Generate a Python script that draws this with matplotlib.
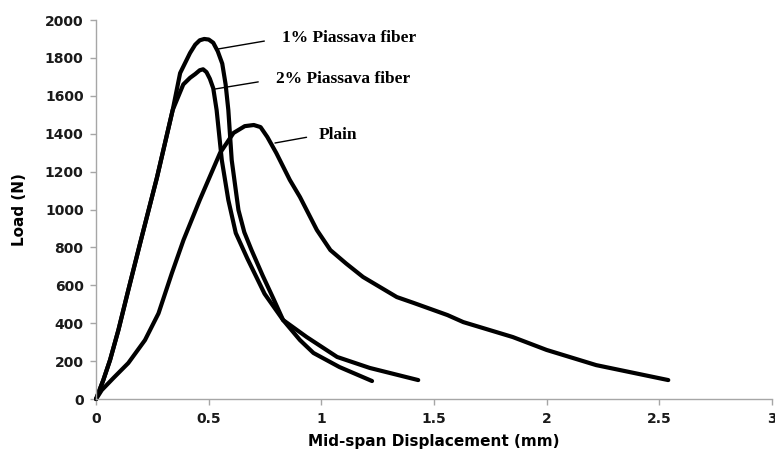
import matplotlib.pyplot as plt
from matplotlib.ticker import FuncFormatter, MultipleLocator

# Load-displacement readings (mm, N)
plain_x = [0, 0.025, 0.077, 0.143, 0.217, 0.277, 0.336, 0.388, 0.46, 0.55, 0.61,
           0.66, 0.70, 0.73, 0.76, 0.80, 0.86, 0.905, 0.98, 1.04, 1.11, 1.185,
           1.26, 1.335, 1.41, 1.56, 1.63, 1.85, 2.0, 2.22, 2.54]
plain_y = [0, 47, 111, 190, 311, 452, 663, 839, 1050, 1298, 1404,
           1440, 1446, 1435, 1383, 1298, 1156, 1066, 892, 786, 715, 644,
           591, 538, 507, 443, 406, 327, 259, 179, 100]

fib1_x = [0, 0.032, 0.062, 0.099, 0.143, 0.195, 0.27, 0.34, 0.373, 0.417, 0.44,
          0.46, 0.48, 0.50, 0.52, 0.54, 0.56, 0.575, 0.587, 0.602, 0.632, 0.658,
          0.69, 0.74, 0.787, 0.83, 0.905, 0.965, 1.08, 1.225]
fib1_y = [0, 100, 206, 364, 575, 820, 1168, 1525, 1720, 1826, 1870,
          1893, 1900, 1897, 1880, 1835, 1770, 1660, 1525, 1261, 997, 880,
          786, 650, 530, 417, 311, 243, 169, 95]

fib2_x = [0, 0.032, 0.062, 0.099, 0.143, 0.195, 0.27, 0.34, 0.387, 0.417, 0.44,
          0.46, 0.475, 0.49, 0.505, 0.52, 0.535, 0.558, 0.587, 0.62, 0.672,
          0.748, 0.83, 0.935, 1.07, 1.215, 1.43]
fib2_y = [0, 100, 206, 364, 575, 820, 1168, 1525, 1660, 1695, 1715,
          1735, 1740, 1725, 1690, 1640, 1525, 1261, 1050, 876, 740,
          555, 417, 327, 222, 164, 100]

fig = plt.figure(figsize=(7.75, 4.55), dpi=100)
ax = fig.add_axes([0.124, 0.123, 0.872, 0.833])

for xs, ys in [(plain_x, plain_y), (fib1_x, fib1_y), (fib2_x, fib2_y)]:
    ax.plot(xs, ys, color='black', lw=3, solid_joinstyle='round',
            solid_capstyle='round', clip_on=False)

ax.set_xlim(0, 3)
ax.set_ylim(0, 2000)
ax.xaxis.set_major_locator(MultipleLocator(0.5))
ax.yaxis.set_major_locator(MultipleLocator(200))
ax.xaxis.set_major_formatter(FuncFormatter(lambda v, p: '%g' % v))

for side in ['top', 'right']:
    ax.spines[side].set_visible(False)
for side in ['left', 'bottom']:
    ax.spines[side].set_color('#a6a6a6')
    ax.spines[side].set_linewidth(1)
ax.tick_params(color='#a6a6a6', length=4, width=1, labelsize=10, pad=5)
for lab in ax.get_xticklabels() + ax.get_yticklabels():
    lab.set_fontweight('bold')
    lab.set_color('#1a1a1a')

ax.set_xlabel('Mid-span Displacement (mm)', fontsize=11, fontweight='bold', labelpad=6)
ax.set_ylabel('Load (N)', fontsize=11, fontweight='bold', labelpad=13)

# curve labels with leader lines
serif = dict(family='Liberation Serif', fontweight='bold', fontsize=12.5)
notes = [('1% Piassava fiber', (0.541, 1847), (0.826, 1905), 11),
         ('2% Piassava fiber', (0.528, 1636), (0.799, 1689), 11),
         ('Plain', (0.794, 1351), (0.989, 1393), 7)]
for txt, pt, tpos, gap in notes:
    ax.annotate(txt, xy=pt, xytext=tpos, ha='left', va='center', **serif,
                arrowprops=dict(arrowstyle='-', lw=1, color='black',
                                relpos=(0, 0.5), shrinkA=gap, shrinkB=0))

fig.savefig('out.png', dpi=100)
